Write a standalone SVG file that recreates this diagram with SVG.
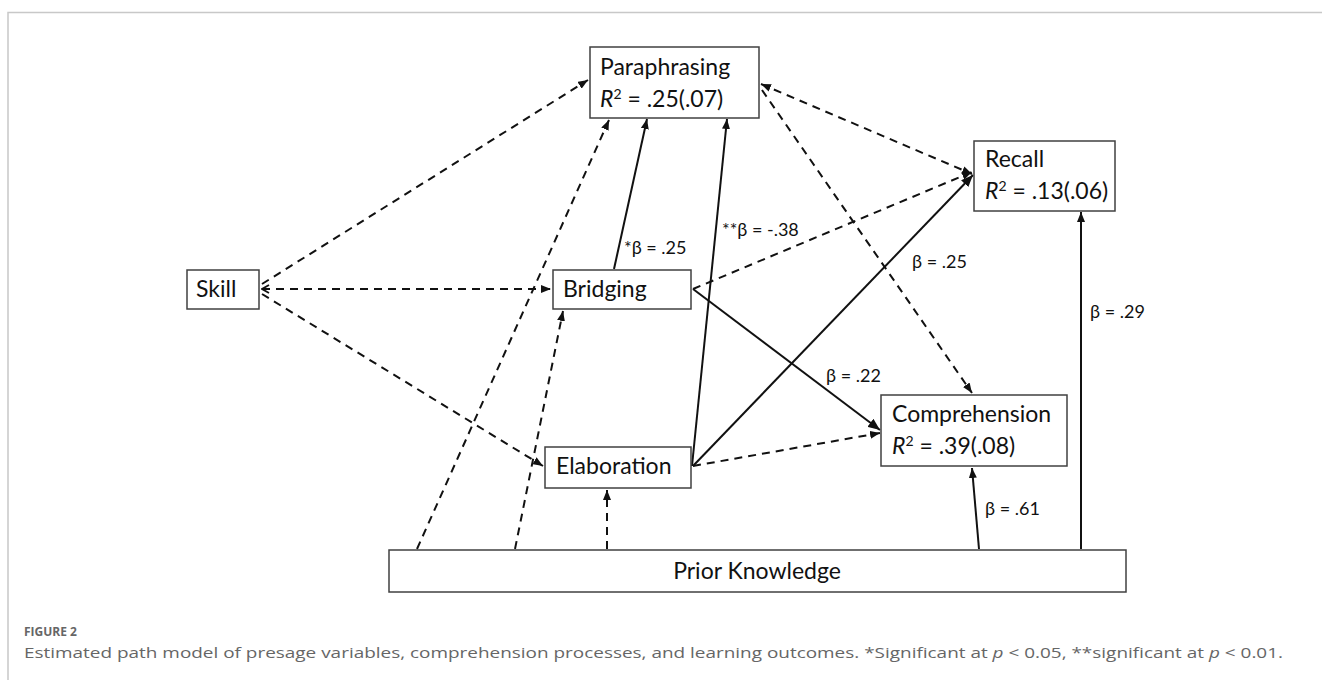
<svg xmlns="http://www.w3.org/2000/svg" width="1322" height="680" viewBox="0 0 1322 680">
<defs>
<style>
.box{fill:#fff;stroke:#404040;stroke-width:1.5}
.t{font-family:Lato,"Open Sans","Liberation Sans",sans-serif;font-size:23px;fill:#111}
.lb{font-family:Lato,"DejaVu Sans","Liberation Sans",sans-serif;font-size:18px;fill:#111}
.d{fill:none;stroke:#111;stroke-width:2;stroke-dasharray:8 6}
.s{fill:none;stroke:#111;stroke-width:2}
.cap{font-family:"Open Sans","Liberation Sans",sans-serif;fill:#666}
</style>
<marker id="ah" markerUnits="userSpaceOnUse" markerWidth="10" markerHeight="8" refX="10" refY="4" orient="auto-start-reverse">
<path d="M0,0 L10,4 L0,8 z" fill="#111"/>
</marker>
<marker id="ahb" markerUnits="userSpaceOnUse" markerWidth="12" markerHeight="10" refX="12" refY="5" orient="auto">
<path d="M0,0 L12,5 L0,10 z" fill="#111"/>
</marker>
<marker id="chev" markerUnits="userSpaceOnUse" markerWidth="10" markerHeight="10" refX="1" refY="5" orient="auto">
<path d="M8,1 L1,5 L8,9" fill="none" stroke="#111" stroke-width="1.8"/>
</marker>
</defs>
<rect width="1322" height="680" fill="#fff"/>
<path d="M8,680 L8,12.5 L1322,12.5" fill="none" stroke="#c8c8c8" stroke-width="1.5"/>

<g id="connectors">
<path class="d" d="M262,284 L588,80" marker-end="url(#ah)"/>
<path class="d" d="M262,289 L551,289" marker-start="url(#chev)" marker-end="url(#ah)"/>
<path class="d" d="M262,294 L543,466" marker-end="url(#ah)"/>
<path class="d" d="M417,549 L609,120" marker-end="url(#ah)"/>
<path class="d" d="M515,549 L563,311" marker-end="url(#ah)"/>
<path class="d" d="M607,549 L607,490" marker-end="url(#ah)"/>
<path class="d" d="M761,84 L972,174" marker-start="url(#ah)" marker-end="url(#ah)"/>
<path class="d" d="M762,90 L972,393" marker-end="url(#ah)"/>
<path class="d" d="M693,289 L972,172" marker-end="url(#ah)"/>
<path class="d" d="M693,466 L880,433" marker-end="url(#ah)"/>
<path class="s" d="M614,269 L647,119" marker-end="url(#ah)"/>
<path class="s" d="M692,466 L727,119" marker-end="url(#ah)"/>
<path class="s" d="M693,466 L973,175" marker-end="url(#ahb)"/>
<path class="s" d="M693,289 L880,430" marker-end="url(#ahb)"/>
<path class="s" d="M979,549 L972,468" marker-end="url(#ah)"/>
<path class="s" d="M1081,549 L1081,212" marker-end="url(#ah)"/>
<text class="lb" x="624" y="254">*β = .25</text>
<text class="lb" x="722" y="236">**β = -.38</text>
<text class="lb" x="912" y="268">β = .25</text>
<text class="lb" x="826" y="382">β = .22</text>
<text class="lb" x="985" y="515">β = .61</text>
<text class="lb" x="1090" y="318">β = .29</text>
</g>

<g id="paraphrasing">
<rect class="box" x="590" y="47" width="169" height="71"/>
<text class="t" x="600" y="75">Paraphrasing</text>
<text class="t" x="600" y="107"><tspan font-style="italic">R</tspan><tspan font-size="14" dy="-8">2</tspan><tspan dy="8"> = .25(.07)</tspan></text>
</g>
<g id="recall">
<rect class="box" x="974" y="141" width="141" height="70"/>
<text class="t" x="985" y="167">Recall</text>
<text class="t" x="985" y="199"><tspan font-style="italic">R</tspan><tspan font-size="14" dy="-8">2</tspan><tspan dy="8"> = .13(.06)</tspan></text>
</g>
<g id="skill">
<rect class="box" x="187" y="270" width="72" height="39"/>
<text class="t" x="196" y="297">Skill</text>
</g>
<g id="bridging">
<rect class="box" x="553" y="270" width="138" height="39"/>
<text class="t" x="563" y="297">Bridging</text>
</g>
<g id="comprehension">
<rect class="box" x="881" y="395" width="186" height="71"/>
<text class="t" x="892" y="422">Comprehension</text>
<text class="t" x="892" y="454"><tspan font-style="italic">R</tspan><tspan font-size="14" dy="-8">2</tspan><tspan dy="8"> = .39(.08)</tspan></text>
</g>
<g id="elaboration">
<rect class="box" x="545" y="447" width="146" height="41"/>
<text class="t" x="556" y="474">Elaboration</text>
</g>
<g id="prior-knowledge">
<rect class="box" x="389" y="550" width="737" height="42"/>
<text class="t" x="757" y="579" text-anchor="middle">Prior Knowledge</text>
</g>

<g id="caption">
<text class="cap" x="24" y="636" font-size="12" font-weight="bold" fill="#777">FIGURE 2</text>
<text class="cap" x="24" y="658" font-size="15" textLength="1259" lengthAdjust="spacingAndGlyphs">Estimated path model of presage variables, comprehension processes, and learning outcomes. *Significant at <tspan font-style="italic">p</tspan> &lt; 0.05, **significant at <tspan font-style="italic">p</tspan> &lt; 0.01.</text>
</g>
</svg>
